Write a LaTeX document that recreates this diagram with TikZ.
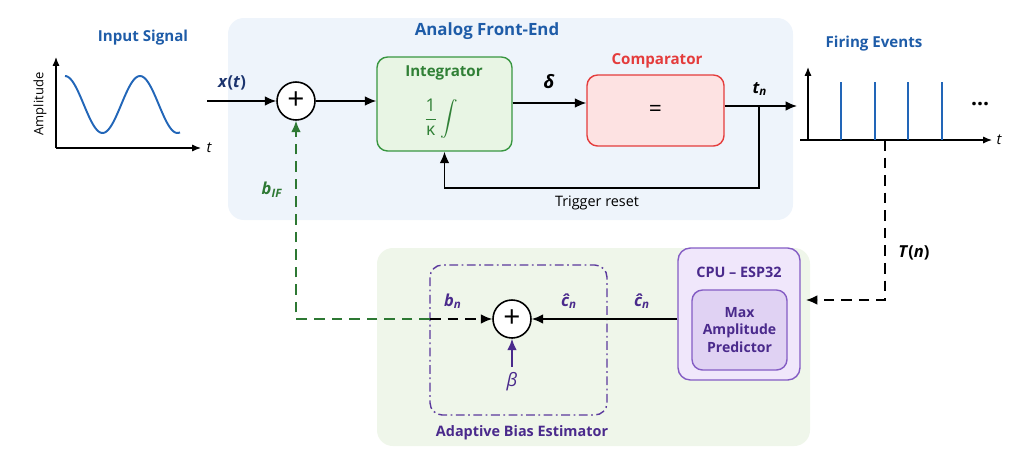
\documentclass[tikz,border=0pt]{standalone}
\usepackage{fontspec}
\setmainfont{Open Sans}
\usepackage{amsmath}
\usetikzlibrary{arrows.meta, positioning, calc}
\definecolor{titleblue}{RGB}{30,92,168}
\definecolor{xnavy}{RGB}{28,52,110}
\definecolor{afebg}{RGB}{238,244,251}
\definecolor{abebg}{RGB}{239,246,234}
\definecolor{intgreen}{RGB}{56,150,64}
\definecolor{intfill}{RGB}{232,245,228}
\definecolor{cmpred}{RGB}{228,60,60}
\definecolor{cmpfill}{RGB}{253,226,226}
\definecolor{cpupurple}{RGB}{132,92,196}
\definecolor{cpufill}{RGB}{240,231,251}
\definecolor{darkpurple}{RGB}{74,42,140}
\definecolor{sigblue}{RGB}{34,102,184}

\tikzset{
  arr/.style={-{Latex[length=6.5pt,width=5.5pt]}, line width=0.9pt},
  sumnode/.style={circle, draw, line width=0.9pt, fill=white, minimum size=0.76cm, inner sep=0pt, font=\fontsize{17}{17}\selectfont},
  titletext/.style={font=\fontsize{8.6}{10}\selectfont\bfseries, text=titleblue},
  lbl/.style={font=\fontsize{9.4}{10}\selectfont\bfseries\itshape}
}

\begin{document}
\begin{tikzpicture}[x=0.02cm, y=-0.02cm]
  \useasboundingbox (0,0) rectangle (1024,454);

  % Backgrounds
  \fill[afebg, rounded corners=9pt] (228,18) rectangle (793,220);
  \fill[abebg, rounded corners=9pt] (377,248) rectangle (810,446);
  \node[titletext, font=\fontsize{9.6}{11}\selectfont\bfseries] (afe) at (487,31) {Analog Front-End};

  % Input signal
  \node[titletext] (intitle) at (143,38) {Input Signal};
  \draw[-{Latex[length=5pt,width=4pt]}, line width=0.7pt] (56,148) -- (56,57);
  \draw[-{Latex[length=5pt,width=4pt]}, line width=0.7pt] (56,148) -- (201,148);
  \node[font=\fontsize{8.4}{9}\selectfont\itshape] (tin) at (209,148) {t};
  \node[rotate=90, font=\fontsize{7.4}{8}\selectfont] (amp) at (40,104) {Amplitude};
  \draw[sigblue, line width=1.1pt] plot[domain=65:180, samples=80] (\x, {104.5-28.5*cos((\x-65)*4.8)});

  % Front-end chain
  \coordinate (xin) at (207,101);
  \node[sumnode] (sum1) at (296,101) {+};
  \node[draw=intgreen, fill=intfill, line width=0.8pt, rounded corners=6pt,
        minimum width=2.7cm, minimum height=1.88cm] (integ) at (444.5,104) {};
  \node[font=\fontsize{8.6}{10}\selectfont\bfseries, text=intgreen!85!black] at (444,73) {Integrator};
  \node[inner sep=0pt, text=intgreen!85!black, font=\fontsize{10}{11}\selectfont] at (441,119) {$\dfrac{\text{1}}{\text{κ}}\displaystyle\int$};
  \node[draw=cmpred, fill=cmpfill, line width=0.8pt, rounded corners=6pt,
        minimum width=2.74cm, minimum height=1.42cm, font=\fontsize{13}{13}\selectfont] (cmp) at (655.5,110.5) {=};
  \node[font=\fontsize{8.6}{10}\selectfont\bfseries, text=cmpred] at (657,61) {Comparator};
  \coordinate (tap) at (759,106);
  \coordinate (tout) at (797,106);

  \draw[arr] (xin) -- (sum1);
  \draw[arr] (sum1) -- (sum1 -| integ.west);
  \draw[arr] (integ.east |- 0,103) -- (cmp.west |- 0,103);
  \draw[arr] (cmp.east |- tap) -- (tout);
  \draw[arr] (tap) -- ++(0,82) -| (integ.south);

  \node[lbl, text=xnavy] at (232,83) {x\textup{(}t\textup{)}};
  \node[lbl, font=\fontsize{10.5}{10}\selectfont\bfseries\itshape] at (549,82) {δ};
  \node[lbl] at (760,89) {t\textsubscript{n}};
  \node[font=\fontsize{8.2}{9}\selectfont] at (597,203) {Trigger reset};

  % Firing events
  \node[titletext] (fetitle) at (874,44) {Firing Events};
  \draw[-{Latex[length=5pt,width=4pt]}, line width=0.7pt] (808,140) -- (808,67);
  \draw[-{Latex[length=5pt,width=4pt]}, line width=0.7pt] (800,140) -- (992,140);
  \node[font=\fontsize{8.4}{9}\selectfont\itshape] (tfe) at (999,140) {t};
  \foreach \sx in {841,875,908,942}
    \draw[sigblue, line width=1.1pt] (\sx,140) -- (\sx,82);
  \node[font=\fontsize{12}{12}\selectfont\bfseries] at (980,104) {\dots};

  % Bias estimator
  \draw[darkpurple!70!cpupurple, line width=0.8pt, dash pattern=on 5pt off 2pt on 1pt off 2pt, rounded corners=7pt] (430,265) rectangle (607,415);
  \node[font=\fontsize{8.2}{10}\selectfont\bfseries, text=darkpurple] (abe) at (522,433) {Adaptive Bias Estimator};
  \node[sumnode] (sum2) at (512,319) {+};
  \node[font=\fontsize{10.5}{10}\selectfont\itshape, text=darkpurple] (beta) at (512,382) {β};
  \draw[arr, darkpurple] (beta) -- (sum2);

  % CPU
  \node[draw=cpupurple, fill=cpufill, line width=0.8pt, rounded corners=7pt,
        minimum width=2.44cm, minimum height=2.64cm] (cpu) at (739,314) {};
  \node[font=\fontsize{8.2}{10}\selectfont\bfseries, text=darkpurple] at (739,272) {CPU – ESP32};
  \node[draw=cpupurple, fill=cpufill!85!cpupurple, line width=0.8pt, rounded corners=6pt,
        minimum width=1.9cm, minimum height=1.6cm, align=center, text=darkpurple,
        font=\fontsize{8}{10}\selectfont\bfseries] (pred) at (739.5,330) {Max\\Amplitude\\Predictor};
  \draw[arr] (cpu.west |- sum2) -- (sum2);
  \node[lbl, text=darkpurple] at (569,301) {ĉ\textsubscript{n}};
  \node[lbl, text=darkpurple] at (642,301) {ĉ\textsubscript{n}};

  % Feedback paths
  \coordinate (tdrop) at (885,140);
  \draw[arr, dash pattern=on 6pt off 4pt, shorten >=3pt] (tdrop) -- (885,300) -- (cpu.east |- 0,300);
  \node[lbl] at (914,253) {T\textup{(}n\textup{)}};
  \coordinate (abeleft) at (430,319);
  \draw[arr, intgreen!80!black, dash pattern=on 6pt off 4pt] (abeleft) -| (sum1.south);
  \draw[arr, dash pattern=on 6pt off 4pt] (abeleft) -- (sum2.west);
  \node[lbl, text=intgreen!80!black] at (272,190) {b\textsubscript{IF}};
  \node[lbl, text=darkpurple] at (453,301) {b\textsubscript{n}};
\end{tikzpicture}
\end{document}
